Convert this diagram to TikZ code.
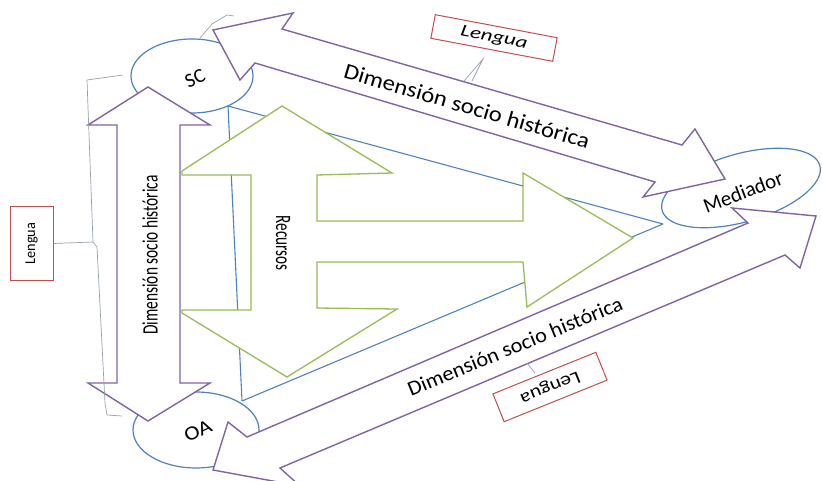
\documentclass[tikz,border=0pt]{standalone}
\usepackage{fontspec}
\setmainfont{Carlito}
\usetikzlibrary{shapes.geometric}
\definecolor{purp}{RGB}{128,100,162}
\definecolor{blu}{RGB}{79,129,189}
\definecolor{grn}{RGB}{155,187,89}
\definecolor{rd}{RGB}{192,80,77}
\definecolor{gry}{RGB}{150,160,175}
\newcommand{\fsz}[1]{\fontsize{#1}{#1}\selectfont}
\begin{document}
\begin{tikzpicture}[x=1pt,y=-1pt,
  parrow/.style={draw=purp,line width=1.4pt,fill=white,line join=miter},
  garrow/.style={draw=grn,line width=1.3pt,fill=white,line join=miter},
  bline/.style={draw=blu,line width=1.1pt},
  circ/.style={ellipse,draw=blu,line width=1.2pt,fill=white,inner sep=0pt},
  lbox/.style={draw=rd,line width=1pt,fill=white,inner sep=0pt},
  brk/.style={draw=gry,line width=0.7pt},
  lbl/.style={inner sep=0pt,text=black}]
\useasboundingbox (0,0) rectangle (822,481);
% corner points of the triangle
\coordinate (tSC) at (228,106);
\coordinate (tOA) at (242,401);
\coordinate (tMe) at (663,224);
% blue triangle
\draw[bline] (tSC) -- (tOA);
\draw[bline] (tSC) -- (tMe);
\draw[bline] (tOA) -- (tMe);
% ellipses
\node[circ,minimum width=122pt,minimum height=74pt] (SC) at (192,76) {};
\node[circ,minimum width=126pt,minimum height=76pt] (OA) at (196,430) {};
\node[circ,rotate=16,minimum width=164pt,minimum height=68pt] (Med) at (741,188) {};
% green three-way arrow
\draw[garrow] (282,106) -- (392,173) -- (317,175) -- (317,221) -- (523,221) -- (523,173)
  -- (633,238) -- (527,307) -- (523,262) -- (317,262) -- (317,308) -- (397,309)
  -- (287,377) -- (182,313) -- (182,310) -- (251,310) -- (251,175) -- (182,175)
  -- (182,171) -- cycle;
% purple vertical double arrow
\draw[parrow] (148,87) -- (210,125) -- (180,125) -- (180,383) -- (210,383) -- (148,421)
  -- (88,383) -- (117,383) -- (117,125) -- (88,125) -- cycle;
% top double arrow
\draw[parrow] (213,30) -- (293,13) -- (282,29) -- (682,145) -- (695,129) -- (725,179)
  -- (643,197) -- (655,182) -- (255,63) -- (240,80) -- cycle;
% bottom double arrow
\draw[parrow] (213,470) -- (228,422) -- (247,437) -- (748,223) -- (732,208) -- (816,216)
  -- (800,268) -- (785,255) -- (280,468) -- (300,486) -- cycle;
% labels
\node[lbl,rotate=25] (SCt) at (195,78) {\fsz{20}SC};
\node[lbl,rotate=25] (OAt) at (198,431) {\fsz{20}\scalebox{1.15}[1]{OA}};
\node[lbl,rotate=21] (Medt) at (743,192) {\fsz{21}Mediador};
\node[lbl,rotate=-16.3] (dtop) at (467,106) {\fsz{22}\scalebox{1.12}[1]{Dimensión socio histórica}};
\node[lbl,rotate=22.3] (dbot) at (515,346) {\fsz{21}\scalebox{1.06}[1]{Dimensión socio histórica}};
\node[lbl,rotate=90] (dleft) at (150,255) {\fsz{22}\scalebox{0.7}[1]{Dimensión socio histórica}};
\node[lbl,rotate=-90] (rec) at (283,243) {\fsz{22}\scalebox{0.69}[1]{Recursos}};
% Lengua boxes
\node[lbox,rotate=-10.7,minimum width=124pt,minimum height=24pt] (Ltop) at (494,38)
  {\fsz{17}\itshape\scalebox{1.35}[1]{Lengua}};
\node[lbox,rotate=90,minimum width=73pt,minimum height=43pt] (Lleft) at (31.5,243.5)
  {\fsz{15}\scalebox{0.95}[1]{Lengua}};
\node[lbox,rotate=202,minimum width=111pt,minimum height=30pt] (Lbot) at (550,387)
  {\fsz{18}\scalebox{1.2}[1]{Lengua}};
% brackets
\coordinate (bTa) at (200,38);
\draw[brk] (bTa) -- (212,24) -- (227,15) -- (234,16);
\coordinate (bTc) at (483,59);
\draw[brk] (464,81) -- (bTc) -- (472,81);
\coordinate (bLc) at (93,242);
\draw[brk] (123,75) -- (87,80) -- (bLc) -- (Lleft.south) ;
\draw[brk] (bLc) -- (97,247) -- (105,403) -- (107,415) -- (122,416);
\coordinate (bBc) at (527,363);
\draw[brk] (bBc) -- (535,373);
\end{tikzpicture}
\end{document}
